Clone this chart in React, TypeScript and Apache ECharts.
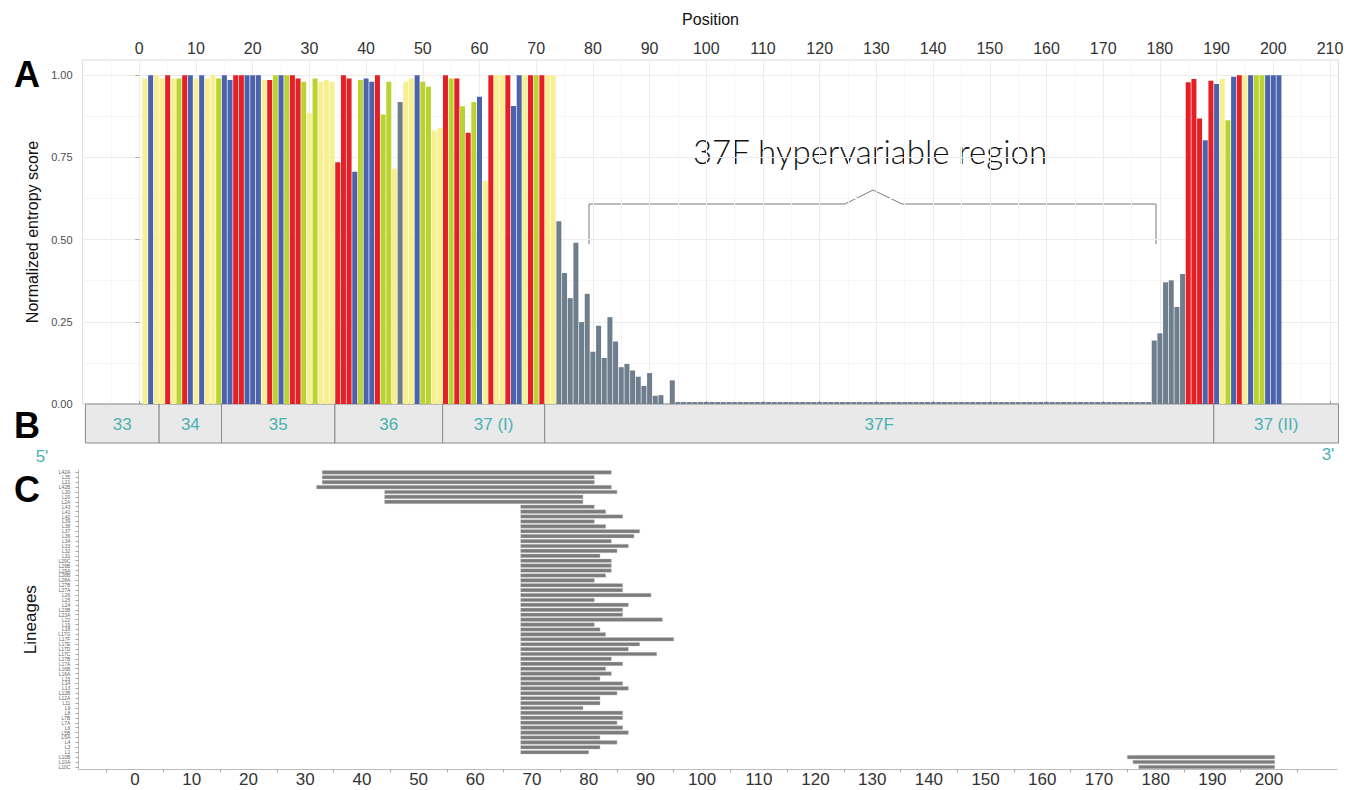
import React, { useEffect, useRef } from "react";
import * as echarts from "echarts";

// ---------- Panel A: normalized entropy per alignment position (positions 1..201) ----------
const entropy: number[] = [
  // 1-10
  0.99, 1.0, 1.0, 0.99, 1.0, 0.99, 0.99, 1.0, 1.0, 0.99,
  // 11-20
  1.0, 0.99, 1.0, 0.99, 1.0, 0.985, 1.0, 1.0, 1.0, 1.0,
  // 21-30
  1.0, 0.985, 0.985, 1.0, 1.0, 1.0, 1.0, 0.99, 0.98, 0.884,
  // 31-40
  0.99, 0.98, 0.985, 0.98, 0.735, 1.0, 0.99, 0.706, 0.985, 0.99,
  // 41-50
  0.98, 1.0, 0.88, 0.98, 0.715, 0.918, 0.98, 0.99, 1.0, 0.98,
  // 51-60
  0.965, 0.832, 0.839, 1.0, 0.99, 0.99, 0.905, 0.825, 0.918, 0.934,
  // 61-70
  0.679, 1.0, 1.0, 1.0, 1.0, 0.906, 1.0, 1.0, 1.0, 1.0,
  // 71-80
  1.0, 1.0, 1.0, 0.556, 0.398, 0.322, 0.49, 0.249, 0.335, 0.159,
  // 81-90
  0.238, 0.14, 0.264, 0.19, 0.112, 0.122, 0.102, 0.083, 0.055, 0.094,
  // 91-100
  0.025, 0.027, 0.0, 0.072, 0.006, 0.006, 0.006, 0.006, 0.006, 0.006,
  // 101-110
  0.006, 0.006, 0.006, 0.006, 0.006, 0.006, 0.006, 0.006, 0.006, 0.006,
  // 111-120
  0.006, 0.006, 0.006, 0.006, 0.006, 0.006, 0.006, 0.006, 0.006, 0.006,
  // 121-130
  0.006, 0.006, 0.006, 0.006, 0.006, 0.006, 0.006, 0.006, 0.006, 0.006,
  // 131-140
  0.006, 0.006, 0.006, 0.006, 0.006, 0.006, 0.006, 0.006, 0.006, 0.006,
  // 141-150
  0.006, 0.006, 0.006, 0.006, 0.006, 0.006, 0.006, 0.006, 0.006, 0.006,
  // 151-160
  0.006, 0.006, 0.006, 0.006, 0.006, 0.006, 0.006, 0.006, 0.006, 0.006,
  // 161-170
  0.006, 0.006, 0.006, 0.006, 0.006, 0.006, 0.006, 0.006, 0.006, 0.006,
  // 171-180
  0.006, 0.006, 0.006, 0.006, 0.006, 0.006, 0.006, 0.006, 0.193, 0.215,
  // 181-190
  0.37, 0.376, 0.295, 0.395, 0.978, 0.988, 0.868, 0.802, 0.983, 0.973,
  // 191-201
  0.988, 0.863, 0.995, 1.0, 1.0, 1.0, 1.0, 1.0, 1.0, 1.0, 1.0,
];

// residue class of each position (Y yellow, B blue, R red, G green, N grey)
const residueClass: string[] = [
  "Y","B","Y","Y","R","Y","G","R","B","Y",
  "B","Y","Y","G","B","B","R","R","B","B",
  "B","Y","R","G","B","G","R","R","G","Y",
  "G","Y","Y","Y","R","R","R","B","G","B",
  "B","R","G","G","Y","N","Y","Y","B","G",
  "G","Y","Y","R","G","R","G","R","G","B",
  "Y","R","Y","Y","R","B","B","Y","R","G",
  "R","Y","Y","N","N","N","N","N","N","N",
  "N","N","N","N","N","N","N","N","N","N",
  "N","N","N","N","N","N","N","N","N","N",
  "N","N","N","N","N","N","N","N","N","N",
  "N","N","N","N","N","N","N","N","N","N",
  "N","N","N","N","N","N","N","N","N","N",
  "N","N","N","N","N","N","N","N","N","N",
  "N","N","N","N","N","N","N","N","N","N",
  "N","N","N","N","N","N","N","N","N","N",
  "N","N","N","N","N","N","N","N","N","N",
  "N","N","N","N","N","N","N","N","N","N",
  "N","N","N","N","R","R","R","B","R","B",
  "Y","G","B","R","Y","B","G","G","B","B",
  "B",
];

const classColors: Record<string, string> = {
  Y: "#f8ef90",
  B: "#4b63ad",
  R: "#e51f26",
  G: "#bbd330",
  N: "#6e7e8d",
};

const topLabelValues = [0, 10, 20, 30, 40, 50, 60, 70, 80, 90, 100, 110, 120, 130, 140, 150, 160, 170, 180, 190, 200, 210];

// ---------- Panel B: exon / region track ----------
const regionNames = ["33", "34", "35", "36", "37 (I)", "37F", "37 (II)"];
const regionStarts = [-9.5, 3.5, 14.5, 34.5, 53.5, 71.5, 189.5];
const regionEnds = [3.5, 14.5, 34.5, 53.5, 71.5, 189.5, 211.5];

// ---------- Panel C: lineage coverage ----------
const lineages = [
  "L42A", "L35", "L21", "L42B", "L30", "L20", "L2A", "L43", "L41", "L40",
  "L39", "L38", "L37", "L36", "L34", "L33", "L32", "L31", "L29C", "L29B",
  "L29A", "L28B", "L28A", "L27B", "L27A", "L26", "L25", "L24", "L23B", "L23A",
  "L22", "L19", "L18", "L17G", "L17F", "L17E", "L17D", "L17C", "L17B", "L17A",
  "L16B", "L16A", "L15", "L14", "L13", "L12B", "L12A", "L11", "L9", "L8",
  "L7B", "L7A", "L6", "L5B", "L5A", "L4", "L3", "L1", "L10B", "L10A",
  "L10C",
];
const lineageStarts = [
  33, 33, 33, 32, 44, 44, 44, 68, 68, 68,
  68, 68, 68, 68, 68, 68, 68, 68, 68, 68,
  68, 68, 68, 68, 68, 68, 68, 68, 68, 68,
  68, 68, 68, 68, 68, 68, 68, 68, 68, 68,
  68, 68, 68, 68, 68, 68, 68, 68, 68, 68,
  68, 68, 68, 68, 68, 68, 68, 68, 175, 176,
  177,
];
const lineageEnds = [
  84, 81, 81, 84, 85, 79, 79, 81, 83, 86,
  81, 83, 89, 88, 84, 87, 85, 82, 84, 84,
  84, 83, 81, 86, 86, 91, 81, 87, 86, 86,
  93, 81, 82, 83, 95, 89, 87, 92, 84, 86,
  83, 84, 82, 86, 87, 85, 82, 82, 79, 86,
  86, 85, 86, 87, 82, 85, 82, 80, 201, 201,
  201,
];
const bottomLabelValues = [0, 10, 20, 30, 40, 50, 60, 70, 80, 90, 100, 110, 120, 130, 140, 150, 160, 170, 180, 190, 200];
const bottomTickValues = [-5, 5, 15, 25, 35, 45, 55, 65, 75, 85, 95, 105, 115, 125, 135, 145, 155, 165, 175, 185, 195, 205];

const FONT = "'Liberation Sans', Arial, Helvetica, sans-serif";
const TEAL = "#4bb1b4";

export default function App() {
  const ref = useRef<HTMLDivElement>(null);

  useEffect(() => {
    if (!ref.current) return;
    const chart = echarts.init(ref.current, null, { renderer: "svg" });

    const barData = entropy.map((v, i) => ({
      value: [i + 1, v],
      itemStyle: { color: classColors[residueClass[i]] },
    }));

    const regionData = regionStarts.map((s, i) => [s, regionEnds[i]]);
    const lineageData = lineages.map((_, i) => [i, lineageStarts[i], lineageEnds[i]]);

    const option: any = {
      animation: false,
      backgroundColor: "#ffffff",
      textStyle: { fontFamily: FONT },
      grid: [
        { left: 82.6, right: 18.5, top: 60, height: 344, show: true, borderColor: "#dddddd", borderWidth: 1, backgroundColor: "transparent" },
        { left: 82.6, right: 18.5, top: 404, height: 39 },
        { left: 78.4, right: 19.9, top: 469.9, height: 299.5 },
      ],
      xAxis: [
        {
          gridIndex: 0,
          type: "value",
          position: "top",
          min: -10,
          max: 211.5,
          interval: 10,
          name: "Position",
          nameLocation: "middle",
          nameGap: 33,
          nameTextStyle: { fontSize: 16, color: "#111", fontFamily: FONT },
          axisLine: { show: false },
          axisTick: { show: true, length: 3, lineStyle: { color: "#999" }, customValues: topLabelValues },
          axisLabel: {
            fontSize: 16,
            color: "#333",
            margin: 4,
            customValues: topLabelValues,
            formatter: (v: number) => (v < 0 ? "" : String(v)),
          },
          splitLine: { show: true, lineStyle: { color: "#ececec", width: 1 } },
          minorTick: { show: false, splitNumber: 2 },
          minorSplitLine: { show: true, lineStyle: { color: "#f6f6f6", width: 1 } },
        },
        { gridIndex: 1, type: "value", min: -10, max: 211.5, show: false },
        {
          gridIndex: 2,
          type: "value",
          position: "bottom",
          min: -10,
          max: 212,
          interval: 10,
          axisLine: { show: true, onZero: false, lineStyle: { color: "#bdbdbd" } },
          axisTick: { show: true, length: 3, lineStyle: { color: "#aaaaaa" }, customValues: bottomTickValues },
          axisLabel: {
            fontSize: 17,
            color: "#333",
            margin: 2,
            customValues: bottomLabelValues,
            formatter: (v: number) => (v < 0 || v > 200 ? "" : String(v)),
          },
          splitLine: { show: false },
        },
      ],
      yAxis: [
        {
          gridIndex: 0,
          type: "value",
          min: 0,
          max: 1.046,
          interval: 0.25,
          name: "Normalized entropy score",
          nameLocation: "middle",
          nameGap: 42,
          nameTextStyle: { fontSize: 16, color: "#111", fontFamily: FONT },
          axisLine: { show: false },
          axisTick: { show: true, length: 4, lineStyle: { color: "#aaaaaa" } },
          axisLabel: {
            fontSize: 11,
            color: "#4d4d4d",
            margin: 10,
            showMaxLabel: false,
            formatter: (v: number) => (v > 1.001 ? "" : v.toFixed(2)),
          },
          splitLine: { show: true, lineStyle: { color: "#ececec", width: 1 } },
          minorTick: { show: false, splitNumber: 2 },
          minorSplitLine: { show: true, lineStyle: { color: "#f6f6f6", width: 1 } },
        },
        { gridIndex: 1, type: "value", min: 0, max: 1, show: false },
        {
          gridIndex: 2,
          type: "category",
          data: lineages,
          inverse: true,
          name: "Lineages",
          nameLocation: "middle",
          nameGap: 39,
          nameTextStyle: { fontSize: 17, color: "#111", fontFamily: FONT },
          axisLine: { show: true, onZero: false, lineStyle: { color: "#bdbdbd" } },
          axisTick: { show: true, length: 3, alignWithLabel: true, lineStyle: { color: "#aaaaaa" } },
          axisLabel: { fontSize: 5, interval: 0, color: "#666", margin: 8 },
          splitLine: { show: false },
        },
      ],
      series: [
        {
          type: "bar",
          xAxisIndex: 0,
          yAxisIndex: 0,
          barWidth: 5,
          data: barData,
        },
        {
          type: "custom",
          xAxisIndex: 1,
          yAxisIndex: 1,
          encode: { x: [0, 1] },
          data: regionData,
          renderItem: (params: any, api: any) => {
            const s = api.value(0);
            const e = api.value(1);
            const a = api.coord([s, 1]);
            const b = api.coord([e, 0]);
            return {
              type: "group",
              children: [
                {
                  type: "rect",
                  shape: { x: a[0], y: a[1], width: b[0] - a[0], height: b[1] - a[1] },
                  style: { fill: "#e9e9e9", stroke: "#8a8a8a", lineWidth: 1 },
                },
                {
                  type: "text",
                  x: (a[0] + b[0]) / 2,
                  y: (a[1] + b[1]) / 2 + 1,
                  style: {
                    text: regionNames[params.dataIndex],
                    fill: TEAL,
                    fontSize: 17,
                    fontFamily: FONT,
                    align: "center",
                    verticalAlign: "middle",
                    textAlign: "center",
                    textVerticalAlign: "middle",
                  },
                },
              ],
            };
          },
        },
        {
          type: "custom",
          xAxisIndex: 2,
          yAxisIndex: 2,
          encode: { y: 0, x: [1, 2] },
          data: lineageData,
          renderItem: (params: any, api: any) => {
            const idx = api.value(0);
            const s = api.value(1);
            const e = api.value(2);
            const p0 = api.coord([s, idx]);
            const p1 = api.coord([e, idx]);
            const h = api.size([0, 1])[1] * 0.74;
            return {
              type: "rect",
              shape: { x: p0[0], y: p0[1] - h / 2, width: p1[0] - p0[0], height: h },
              style: { fill: "#7c7c7c", stroke: "#c4c4c4", lineWidth: 0.4 },
            };
          },
        },
      ],
      graphic: [
        {
          type: "text",
          x: 27,
          y: 74,
          style: { text: "A", fontSize: 36, fontWeight: "bold", fontFamily: FONT, fill: "#000", align: "center", verticalAlign: "middle", textAlign: "center", textVerticalAlign: "middle" },
        },
        {
          type: "text",
          x: 27,
          y: 425,
          style: { text: "B", fontSize: 36, fontWeight: "bold", fontFamily: FONT, fill: "#000", align: "center", verticalAlign: "middle", textAlign: "center", textVerticalAlign: "middle" },
        },
        {
          type: "text",
          x: 27,
          y: 489,
          style: { text: "C", fontSize: 36, fontWeight: "bold", fontFamily: FONT, fill: "#000", align: "center", verticalAlign: "middle", textAlign: "center", textVerticalAlign: "middle" },
        },
        {
          type: "text",
          x: 42,
          y: 456,
          style: { text: "5'", fontSize: 17, fontFamily: FONT, fill: TEAL, align: "center", verticalAlign: "middle", textAlign: "center", textVerticalAlign: "middle" },
        },
        {
          type: "text",
          x: 1328,
          y: 454,
          style: { text: "3'", fontSize: 17, fontFamily: FONT, fill: TEAL, align: "center", verticalAlign: "middle", textAlign: "center", textVerticalAlign: "middle" },
        },
        {
          type: "polyline",
          shape: {
            points: [
              [589, 244],
              [589, 204],
              [845, 204],
              [873, 190],
              [902, 204],
              [1156, 204],
              [1156, 244],
            ],
          },
          style: { stroke: "#7a7a7a", lineWidth: 1, fill: null },
        },
        {
          type: "text",
          x: 870,
          y: 151,
          style: {
            text: "37F hypervariable region",
            fontSize: 33,
            fontWeight: 300,
            fontFamily: "Lato, 'Liberation Sans', sans-serif",
            fill: "#111",
            align: "center",
            verticalAlign: "middle",
            textAlign: "center",
            textVerticalAlign: "middle",
          },
        },
      ],
    };

    chart.setOption(option);
    return () => {
      chart.dispose();
    };
  }, []);

  return (
    <div
      ref={ref}
      style={{ position: "fixed", left: 0, top: 0, width: 1357, height: 790, background: "#fff" }}
    />
  );
}
